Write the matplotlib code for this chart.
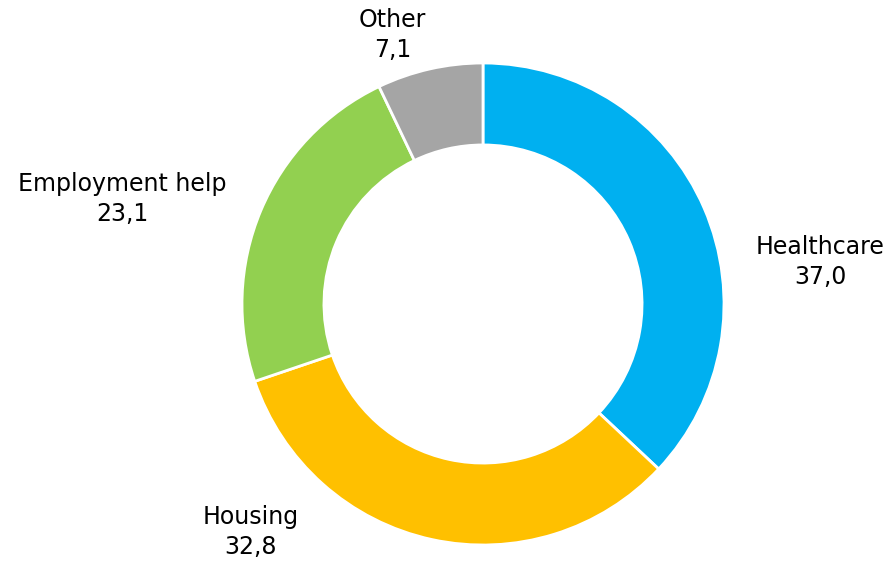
import matplotlib
matplotlib.use("Agg")
import matplotlib.pyplot as plt

categories = ["Healthcare", "Housing", "Employment help", "Other"]
values = [37.0, 32.8, 23.1, 7.1]
value_labels = ["37,0", "32,8", "23,1", "7,1"]
colors = ["#00B0F0", "#FFC000", "#92D050", "#A5A5A5"]

W, H = 890, 562
fig = plt.figure(figsize=(W / 100, H / 100), dpi=100)
cx, cy, R = 483, 304, 241
ax = fig.add_axes([(cx - R) / W, (H - cy - R) / H, 2 * R / W, 2 * R / H])

ax.pie(values, colors=colors, startangle=90, counterclock=False, radius=1.0,
       wedgeprops=dict(width=0.34, edgecolor="white", linewidth=2))
ax.set_xlim(-1, 1)
ax.set_ylim(-1, 1)
ax.set_aspect("equal")
ax.axis("off")

label_pos = [(1.40, 0.175), (-0.965, -0.945), (-1.495, 0.435), (-0.375, 1.115)]
for (x, y), cat, v in zip(label_pos, categories, value_labels):
    ax.text(x, y, f"{cat}\n{v}", ha="center", va="center", fontsize=17,
            color="#000000", linespacing=1.3, clip_on=False)

fig.savefig("out.png", dpi=100)
